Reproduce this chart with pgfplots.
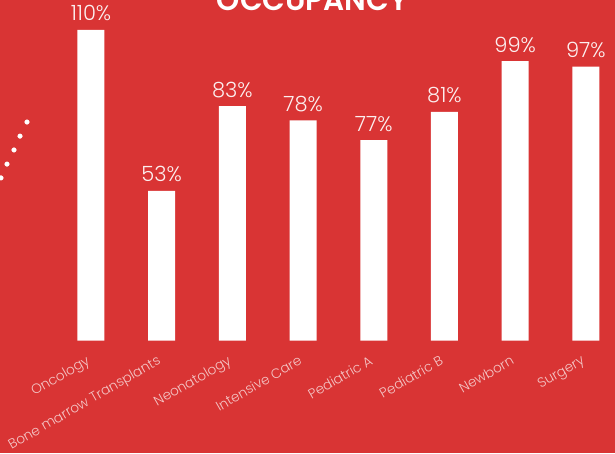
\documentclass[border=0pt]{standalone}
\usepackage{pgfplots}
\pgfplotsset{compat=1.18}
\usepackage{fontspec}
\setmainfont{Poppins}[UprightFont=* Light, BoldFont=* SemiBold]
\definecolor{bg}{RGB}{217,52,52}
\begin{document}
\begin{tikzpicture}
\fill[bg] (0,0) rectangle (615pt,453pt);
\begin{axis}[
  at={(0pt,112.5pt)}, anchor=south west,
  scale only axis, width=615pt, height=310.5pt,
  xmin=-1.287, xmax=7.412, ymin=0, ymax=110,
  clip=false,
  axis line style={draw=none},
  major tick style={draw=none},
  ytick=\empty,
  xtick={0,1,2,3,4,5,6,7},
  xticklabels={Oncology,Bone marrow Transplants,Neonatology,Intensive Care,Pediatric A,Pediatric B,Newborn,Surgery},
  xticklabel style={rotate=30, anchor=north east, inner sep=0pt, xshift=-11.6pt, yshift=-9.4pt,
     font=\fontsize{13.6}{14}\selectfont, text=white!72!bg},
]
\addplot[ybar, bar width=27pt, fill=white, draw=none,
  nodes near coords, point meta=explicit symbolic,
  every node near coord/.style={anchor=base, inner sep=0pt, yshift=9pt,
     font=\fontsize{21}{21}\selectfont, text=white!92!bg}]
  coordinates {(0,110) [110\%] (1,53) [53\%] (2,83) [83\%] (3,78) [78\%]
               (4,71) [77\%] (5,81) [81\%] (6,99) [99\%] (7,97) [97\%]};
\addplot[only marks, mark=*, mark size=2.3pt, white, draw=none]
  coordinates {(-0.905,77.4) (-1.004,72.4) (-1.089,67.5) (-1.188,62.5) (-1.273,57.6)};
\end{axis}
\node[anchor=base, font=\bfseries\fontsize{29.5}{30}\selectfont, text=white] at (312.5pt,442pt) {OCCUPANCY};
\pgfresetboundingbox
\path (0,0) rectangle (615pt,453pt);
\end{tikzpicture}
\end{document}
